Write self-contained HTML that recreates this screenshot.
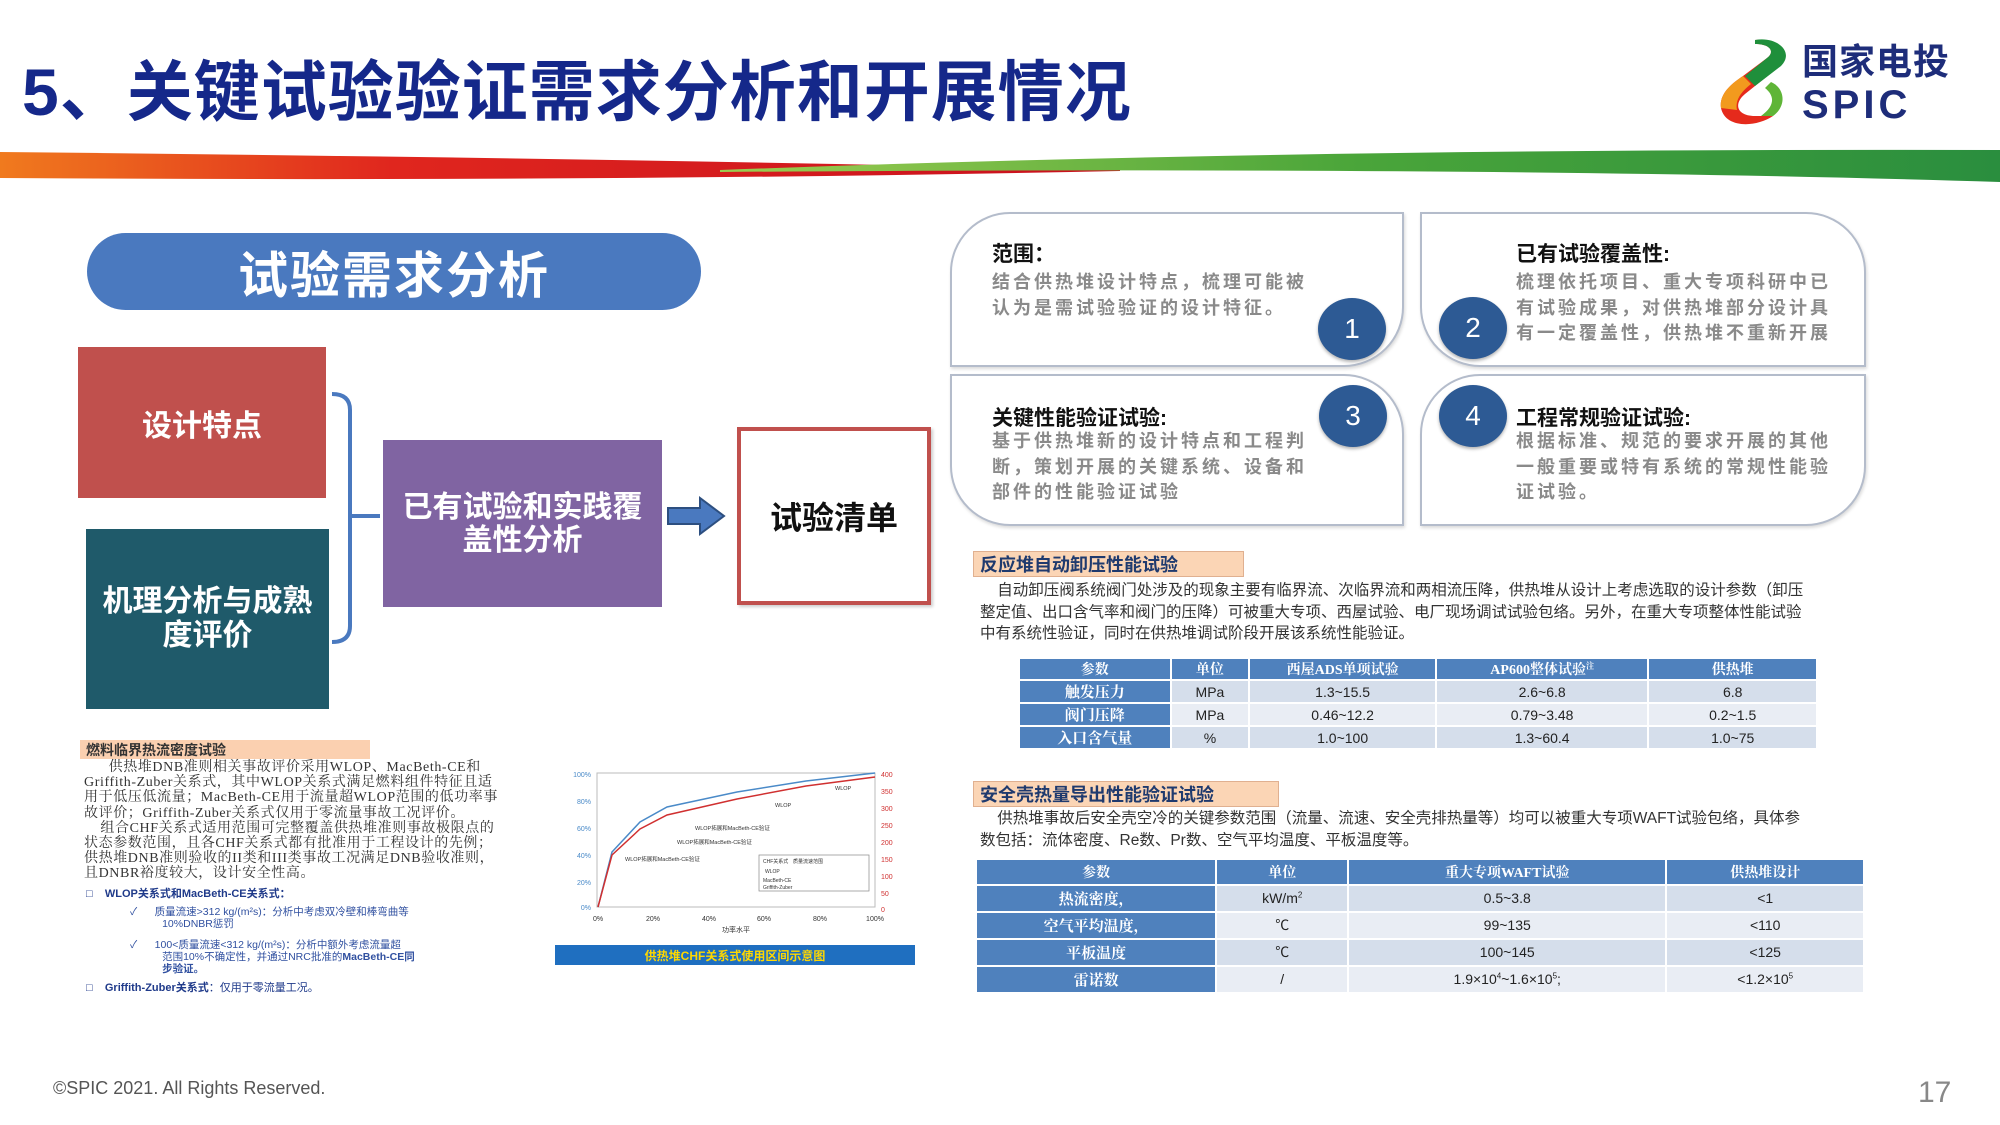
<!DOCTYPE html>
<html><head><meta charset="utf-8">
<style>
*{margin:0;padding:0;box-sizing:border-box}
body{width:2000px;height:1125px;position:relative;background:#fff;font-family:"Liberation Sans","Noto Sans CJK SC",sans-serif;overflow:hidden}
.a{position:absolute}
.c{display:flex;align-items:center;justify-content:center;text-align:center}
.card{position:absolute;border:2px solid #b4bccb;background:#fff;box-shadow:1px 2px 3px rgba(0,0,0,.15)}
.ct{position:absolute;font-weight:bold;font-size:21px;color:#111}
.cb{position:absolute;font-size:18px;color:#8a8a8a;line-height:25.5px;letter-spacing:3px;font-weight:bold}
.num{position:absolute;width:68px;height:62px;border-radius:50%;background:#2d5a94;color:#fff;font-size:28px;display:flex;align-items:center;justify-content:center;box-shadow:0 2px 3px rgba(0,0,0,.3)}
.lab{position:absolute;background:#fbd5b5;border:1px solid #e0b090;color:#1f3a6e;font-weight:bold;font-size:18px;padding-left:6px;display:flex;align-items:center}
.para{position:absolute;font-size:15.5px;color:#333;line-height:21.5px;white-space:nowrap}
table{border-collapse:collapse;position:absolute;font-size:14px;color:#222}
td,th{text-align:center;border:2px solid #fff;padding:0}
th{background:#4f81bd;color:#fff;font-weight:bold;font-family:"Liberation Serif","Noto Serif CJK SC",serif}
tr.o td{background:#d5deeb}
tr.e td{background:#e9edf4}
tr.o td.h,tr.e td.h{background:#4f81bd;color:#fff;font-weight:bold;font-family:"Liberation Serif","Noto Serif CJK SC",serif;font-size:15px}
.sm{position:absolute;font-size:14px;letter-spacing:.6px;color:#333;line-height:15.2px;font-family:"Liberation Serif","Noto Serif CJK SC",serif;white-space:nowrap}
</style></head><body>

<div class="a" style="left:22px;top:52px;font-size:66px;font-weight:bold;color:#15288a;letter-spacing:1px;line-height:80px">5、关键试验验证需求分析和开展情况</div>

<svg class="a" style="left:1715px;top:36px" width="82" height="94" viewBox="0 0 82 94">
<path d="M40 4 C65 2 78 20 60 34 L30 58 C18 68 22 80 40 80 L58 80 C40 92 10 92 6 72 C4 58 16 48 28 40 L52 22 C60 16 56 8 40 8Z" fill="#e52a1c"/>
<path d="M40 4 C62 0 80 16 66 30 L40 50 L30 40 L52 22 C60 16 56 8 40 8Z" fill="#1f8f3b"/>
<path d="M6 72 C4 58 16 48 28 40 L36 48 C26 56 20 64 22 74Z" fill="#f29a1e"/>
<path d="M56 46 C70 52 72 70 58 80 L46 80 C60 70 60 60 50 52Z" fill="#5fb537"/>
</svg>
<div class="a" style="left:1802px;top:40px;font-size:36px;font-weight:bold;color:#1e2d7a;letter-spacing:1px;line-height:44px">国家电投</div>
<div class="a" style="left:1802px;top:84px;font-size:40px;font-weight:bold;color:#1e2d7a;letter-spacing:4px;line-height:42px">SPIC</div>

<svg class="a" style="left:0;top:140px" width="2000" height="50" viewBox="0 140 2000 50">
<defs>
<linearGradient id="rg" x1="0" x2="1"><stop offset="0" stop-color="#f07a1e"/><stop offset=".35" stop-color="#e0261e"/><stop offset="1" stop-color="#c8101e"/></linearGradient>
<linearGradient id="gg" x1="0" x2="1"><stop offset="0" stop-color="#9ccc50"/><stop offset=".5" stop-color="#4aa53a"/><stop offset="1" stop-color="#2a8e3e"/></linearGradient>
</defs>
<path d="M0 152 Q600 158 1120 170 L1120 171 Q600 182 0 178Z" fill="url(#rg)"/>
<path d="M720 170 Q1300 148 2000 150 L2000 182 Q1500 166 720 172Z" fill="url(#gg)"/>
</svg>

<div class="a c" style="left:87px;top:233px;width:614px;height:77px;border-radius:39px;background:#4a79bf;color:#fff;font-size:50px;font-weight:bold;letter-spacing:2px">试验需求分析</div>
<div class="a c" style="left:78px;top:347px;width:248px;height:151px;background:#c0504d;color:#fff;font-size:30px;font-weight:bold">设计特点</div>
<div class="a c" style="left:86px;top:529px;width:243px;height:180px;background:#1f5a6a;color:#fff;font-size:30px;font-weight:bold;line-height:34px">机理分析与成熟<br>度评价</div>
<svg class="a" style="left:328px;top:390px" width="60" height="255">
<path d="M4 4 Q22 4 22 20 L22 236 Q22 252 4 252" fill="none" stroke="#4a79bf" stroke-width="4"/>
<path d="M22 126 L52 126" stroke="#4a79bf" stroke-width="4"/>
</svg>
<div class="a c" style="left:383px;top:440px;width:279px;height:167px;background:#8064a2;color:#fff;font-size:30px;font-weight:bold;line-height:33px">已有试验和实践覆<br>盖性分析</div>
<svg class="a" style="left:666px;top:495px" width="62" height="42">
<path d="M2 13 L34 13 L34 3 L58 21 L34 39 L34 29 L2 29Z" fill="#4a79bf" stroke="#2d4f80" stroke-width="2"/>
</svg>
<div class="a c" style="left:737px;top:427px;width:194px;height:178px;border:4px solid #c0504d;color:#111;font-size:32px;font-weight:bold;box-shadow:2px 2px 3px rgba(0,0,0,.2)">试验清单</div>

<div class="card" style="left:950px;top:212px;width:454px;height:155px;border-radius:60px 0 60px 0"></div>
<div class="card" style="left:1420px;top:212px;width:446px;height:155px;border-radius:0 60px 0 60px"></div>
<div class="card" style="left:950px;top:374px;width:454px;height:152px;border-radius:0 60px 0 60px"></div>
<div class="card" style="left:1420px;top:374px;width:446px;height:152px;border-radius:60px 0 60px 0"></div>
<div class="ct" style="left:992px;top:238px">范围：</div>
<div class="cb" style="left:992px;top:270px">结合供热堆设计特点，梳理可能被<br>认为是需试验验证的设计特征。</div>
<div class="ct" style="left:1516px;top:238px">已有试验覆盖性:</div>
<div class="cb" style="left:1516px;top:270px">梳理依托项目、重大专项科研中已<br>有试验成果，对供热堆部分设计具<br>有一定覆盖性，供热堆不重新开展</div>
<div class="ct" style="left:992px;top:402px">关键性能验证试验:</div>
<div class="cb" style="left:992px;top:429px">基于供热堆新的设计特点和工程判<br>断，策划开展的关键系统、设备和<br>部件的性能验证试验</div>
<div class="ct" style="left:1516px;top:402px">工程常规验证试验:</div>
<div class="cb" style="left:1516px;top:429px">根据标准、规范的要求开展的其他<br>一般重要或特有系统的常规性能验<br>证试验。</div>
<div class="num" style="left:1318px;top:298px">1</div>
<div class="num" style="left:1439px;top:297px">2</div>
<div class="num" style="left:1319px;top:385px">3</div>
<div class="num" style="left:1439px;top:385px">4</div>

<div class="lab" style="left:973px;top:551px;width:271px;height:26px">反应堆自动卸压性能试验</div>
<div class="para" style="left:980px;top:580px">&nbsp;&nbsp;&nbsp;&nbsp;自动卸压阀系统阀门处涉及的现象主要有临界流、次临界流和两相流压降，供热堆从设计上考虑选取的设计参数（卸压<br>整定值、出口含气率和阀门的压降）可被重大专项、西屋试验、电厂现场调试试验包络。另外，在重大专项整体性能试验<br>中有系统性验证，同时在供热堆调试阶段开展该系统性能验证。</div>
<table style="left:1018px;top:657px;width:800px;height:92px">
<colgroup><col style="width:152px"><col style="width:79px"><col style="width:187px"><col style="width:213px"><col style="width:169px"></colgroup>
<tr style="height:20px"><th>参数</th><th>单位</th><th>西屋ADS单项试验</th><th>AP600整体试验<sup style="font-size:8px">注</sup></th><th>供热堆</th></tr>
<tr class="o"><td class="h">触发压力</td><td>MPa</td><td>1.3~15.5</td><td>2.6~6.8</td><td>6.8</td></tr>
<tr class="e"><td class="h">阀门压降</td><td>MPa</td><td>0.46~12.2</td><td>0.79~3.48</td><td>0.2~1.5</td></tr>
<tr class="o"><td class="h">入口含气量</td><td>%</td><td>1.0~100</td><td>1.3~60.4</td><td>1.0~75</td></tr>
</table>

<div class="lab" style="left:973px;top:781px;width:306px;height:26px">安全壳热量导出性能验证试验</div>
<div class="para" style="left:980px;top:808px">&nbsp;&nbsp;&nbsp;&nbsp;供热堆事故后安全壳空冷的关键参数范围（流量、流速、安全壳排热量等）均可以被重大专项WAFT试验包络，具体参<br>数包括：流体密度、Re数、Pr数、空气平均温度、平板温度等。</div>
<table style="left:975px;top:858px;width:890px;height:136px">
<colgroup><col style="width:241px"><col style="width:132px"><col style="width:319px"><col style="width:198px"></colgroup>
<tr><th>参数</th><th>单位</th><th>重大专项WAFT试验</th><th>供热堆设计</th></tr>
<tr class="o"><td class="h">热流密度，</td><td>kW/m<sup style="font-size:8px">2</sup></td><td>0.5~3.8</td><td>&lt;1</td></tr>
<tr class="e"><td class="h">空气平均温度，</td><td>℃</td><td>99~135</td><td>&lt;110</td></tr>
<tr class="o"><td class="h">平板温度</td><td>℃</td><td>100~145</td><td>&lt;125</td></tr>
<tr class="e"><td class="h">雷诺数</td><td>/</td><td>1.9×10<sup style="font-size:8px">4</sup>~1.6×10<sup style="font-size:8px">5</sup>;</td><td>&lt;1.2×10<sup style="font-size:8px">5</sup></td></tr>
</table>

<div class="lab" style="left:80px;top:740px;width:290px;height:19px;font-size:14px;border:none;background:#fbd0b0;color:#333">燃料临界热流密度试验</div>
<div class="sm" style="left:84px;top:760px">&nbsp;&nbsp;&nbsp;&nbsp;&nbsp;&nbsp;供热堆DNB准则相关事故评价采用WLOP、MacBeth-CE和<br>Griffith-Zuber关系式，其中WLOP关系式满足燃料组件特征且适<br>用于低压低流量；MacBeth-CE用于流量超WLOP范围的低功率事<br>故评价；Griffith-Zuber关系式仅用于零流量事故工况评价。<br>&nbsp;&nbsp;&nbsp;&nbsp;组合CHF关系式适用范围可完整覆盖供热堆准则事故极限点的<br>状态参数范围，且各CHF关系式都有批准用于工程设计的先例；<br>供热堆DNB准则验收的II类和III类事故工况满足DNB验收准则，<br>且DNBR裕度较大，设计安全性高。</div>
<div class="a" style="left:86px;top:885px;font-size:11px;color:#1f3a8a;font-weight:bold">□ &nbsp;&nbsp;&nbsp;WLOP关系式和MacBeth-CE关系式：</div>
<div class="a" style="left:130px;top:906px;font-size:10.5px;color:#3050a0;line-height:12px">✓ &nbsp;&nbsp;&nbsp;&nbsp;&nbsp;质量流速&gt;312 kg/(m²s)：分析中考虑双冷壁和棒弯曲等<br>&nbsp;&nbsp;&nbsp;&nbsp;&nbsp;&nbsp;&nbsp;&nbsp;&nbsp;&nbsp;&nbsp;10%DNBR惩罚</div>
<div class="a" style="left:130px;top:939px;font-size:10.5px;color:#3050a0;line-height:12px">✓ &nbsp;&nbsp;&nbsp;&nbsp;&nbsp;100&lt;质量流速&lt;312 kg/(m²s)：分析中额外考虑流量超<br>&nbsp;&nbsp;&nbsp;&nbsp;&nbsp;&nbsp;&nbsp;&nbsp;&nbsp;&nbsp;&nbsp;范围10%不确定性，并通过NRC批准的<b>MacBeth-CE同</b><br>&nbsp;&nbsp;&nbsp;&nbsp;&nbsp;&nbsp;&nbsp;&nbsp;&nbsp;&nbsp;&nbsp;<b>步验证。</b></div>
<div class="a" style="left:86px;top:979px;font-size:11px;color:#1f3a8a"><b>□ &nbsp;&nbsp;&nbsp;Griffith-Zuber关系式</b>：仅用于零流量工况。</div>

<svg class="a" style="left:545px;top:765px" width="375" height="200" font-family="Liberation Sans, Noto Sans CJK SC, sans-serif">
<rect x="52" y="8" width="278" height="134" fill="#fff" stroke="#bbb"/>
<g font-size="7" fill="#4a8ac8" text-anchor="end">
<text x="46" y="12">100%</text><text x="46" y="39">80%</text><text x="46" y="66">60%</text><text x="46" y="93">40%</text><text x="46" y="120">20%</text><text x="46" y="145">0%</text></g>
<g font-size="7" fill="#d03030"><text x="336" y="12">400</text><text x="336" y="29">350</text><text x="336" y="46">300</text><text x="336" y="63">250</text><text x="336" y="80">200</text><text x="336" y="97">150</text><text x="336" y="114">100</text><text x="336" y="131">50</text><text x="336" y="147">0</text></g>
<g font-size="7" fill="#333" text-anchor="middle"><text x="53" y="156">0%</text><text x="108" y="156">20%</text><text x="164" y="156">40%</text><text x="219" y="156">60%</text><text x="275" y="156">80%</text><text x="330" y="156">100%</text><text x="191" y="167">功率水平</text></g>
<path d="M53 142 L67 87 L95 57 L122 42 L192 27 L261 16 L330 8" fill="none" stroke="#4a8ac8" stroke-width="1.5"/>
<path d="M53 142 L67 90 L95 64 L122 50 L192 34 L261 21 L330 12" fill="none" stroke="#d03030" stroke-width="1.5"/>
<g font-size="5.5" fill="#333"><text x="150" y="65">WLOP拓展和MacBeth-CE验证</text><text x="132" y="79">WLOP拓展和MacBeth-CE验证</text><text x="80" y="96">WLOP拓展和MacBeth-CE验证</text><text x="230" y="42">WLOP</text><text x="290" y="25">WLOP</text></g>
<rect x="214" y="90" width="110" height="36" fill="#fff" stroke="#888" stroke-width=".7"/>
<g font-size="5" fill="#333"><text x="218" y="98">CHF关系式</text><text x="248" y="98">质量流速范围</text><text x="220" y="108">WLOP</text><text x="218" y="117">MacBeth-CE</text><text x="218" y="124">Griffith-Zuber</text></g>
</svg>
<div class="a c" style="left:555px;top:945px;width:360px;height:20px;background:#1f6fc0;color:#ffd800;font-size:12px;font-weight:bold">供热堆CHF关系式使用区间示意图</div>

<div class="a" style="left:53px;top:1078px;font-size:18px;color:#555">©SPIC 2021. All Rights Reserved.</div>
<div class="a" style="left:1918px;top:1076px;font-size:30px;color:#888">17</div>
</body></html>
